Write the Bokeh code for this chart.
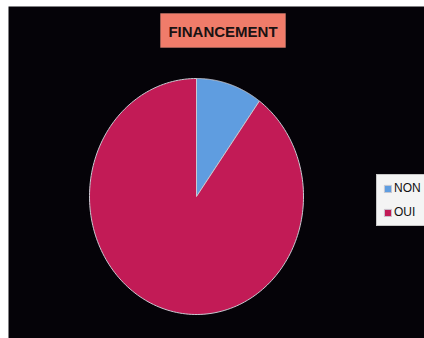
import numpy as np
from bokeh.plotting import figure
from bokeh.models import Legend, LegendItem, Label, BoxAnnotation
from bokeh.embed import file_html
from bokeh.resources import INLINE

title = "FINANCEMENT"
categories = ["NON", "OUI"]
values = [10, 90]
colors = ["#5f9de0", "#c21b56"]

W, H = 424, 338
FW, FH = 416, 332
p = figure(width=W, height=H, output_backend="svg", toolbar_location=None,
           x_range=(0, FW), y_range=(0, FH),
           min_border_left=8, min_border_top=6, min_border_right=0, min_border_bottom=0,
           background_fill_color="#050308", border_fill_color="white",
           outline_line_color=None)
p.axis.visible = False
p.grid.visible = False

# elliptical pie (scanned chart is slightly taller than wide)
cx, cy, rx, ry = 188, 142, 107, 118
fr = np.cumsum([0] + values) / sum(values)
renderers = []
for i, cat in enumerate(categories):
    a0, a1 = fr[i] * 2 * np.pi, fr[i + 1] * 2 * np.pi
    t = np.linspace(a0, a1, 200)
    xs = [cx] + list(cx + rx * np.sin(t)) + [cx]
    ys = [cy] + list(cy + ry * np.cos(t)) + [cy]
    r = p.patch(xs, ys, fill_color=colors[i], line_color="#c8c8d0", line_width=1)
    renderers.append((cat, r))

legend = Legend(items=[LegendItem(label=c, renderers=[r]) for c, r in renderers],
                location=(368, 112), orientation="vertical",
                background_fill_color="#f4f4f4", background_fill_alpha=1,
                border_line_color="#999999", border_line_width=1,
                glyph_width=9, glyph_height=9, label_text_font="Liberation Sans",
                label_text_font_size="12px", label_text_color="#111111",
                spacing=10, padding=6, margin=0, label_standoff=2, label_height=12)
p.add_layout(legend, "center")

box = BoxAnnotation(left=152, right=277, bottom=291, top=325,
                    fill_color="#f07c6a", fill_alpha=1,
                    line_color="#f3a090", line_width=1)
p.add_layout(box)
p.add_layout(Label(x=214.5, y=307, text=title, text_align="center",
                   text_baseline="middle", text_font="Liberation Sans",
                   text_font_style="bold", text_font_size="15px",
                   text_color="#1a1212"))

open("out.html", "w").write(file_html(p, INLINE))
